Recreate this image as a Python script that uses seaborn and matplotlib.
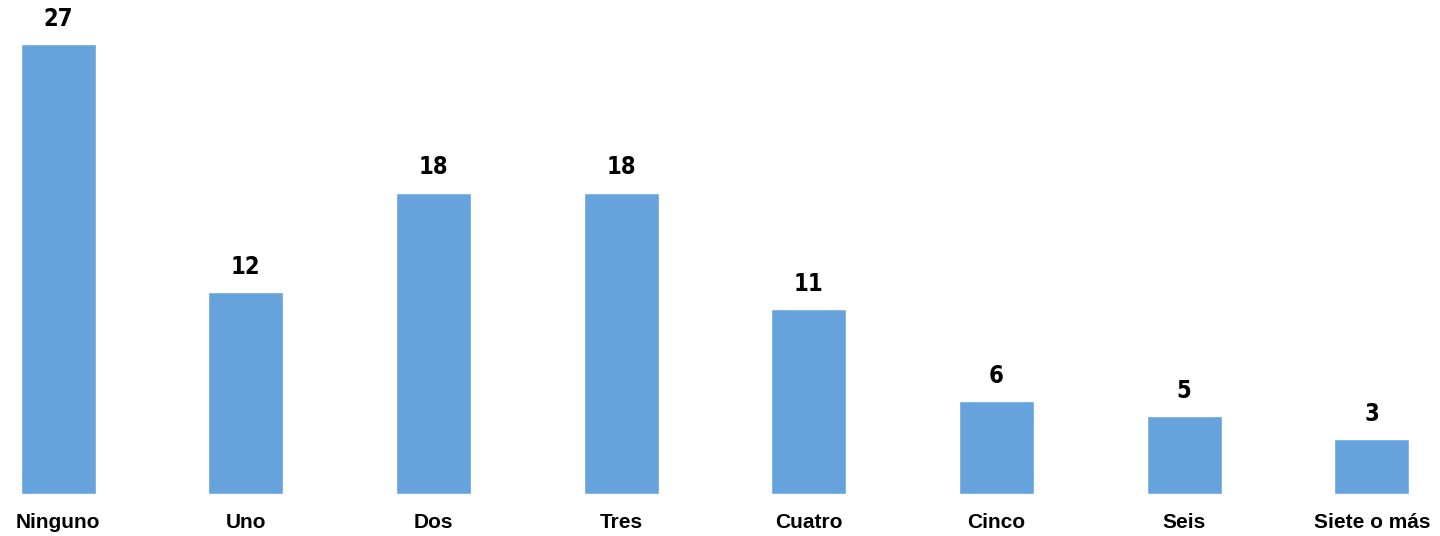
import matplotlib
matplotlib.use("Agg")
import matplotlib.pyplot as plt
import seaborn as sns
import pandas as pd

categories = ["Ninguno", "Uno", "Dos", "Tres", "Cuatro", "Cinco", "Seis", "Siete o más"]
values = [27.0, 12.1, 18.1, 18.1, 11.1, 5.6, 4.7, 3.3]
labels = ["27", "12", "18", "18", "11", "6", "5", "3"]

sns.set_theme(style="white")
plt.rcParams["font.family"] = ["Liberation Sans", "DejaVu Sans"]

df = pd.DataFrame({"cat": categories, "val": values})

fig = plt.figure(figsize=(14.4, 5.36), dpi=100)
ax = fig.add_axes([0, 42 / 536, 1, 494 / 536])
sns.barplot(data=df, x="cat", y="val", color="#66A3DD", width=0.4, saturation=1, ax=ax)

for p, lab in zip(ax.patches, labels):
    ax.annotate(lab, (p.get_x() + p.get_width() / 2, p.get_height()),
                xytext=(0, 13), textcoords="offset points",
                ha="center", va="baseline", fontsize=17, fontweight="bold",
                fontstretch="condensed",
                family=["Liberation Sans Narrow", "DejaVu Sans"],
                color="black")

ax.set_xlim(-0.310, 7.363)
ax.set_ylim(0, 29.66)
ax.set_xlabel("")
ax.set_ylabel("")
ax.set_yticks([])
ax.tick_params(axis="x", length=0, pad=14)
for t in ax.get_xticklabels():
    t.set_fontsize(15)
    t.set_fontweight("bold")
    t.set_color("black")
for s in ax.spines.values():
    s.set_visible(False)
ax.patch.set_alpha(0)

fig.savefig("out.png", dpi=100)
